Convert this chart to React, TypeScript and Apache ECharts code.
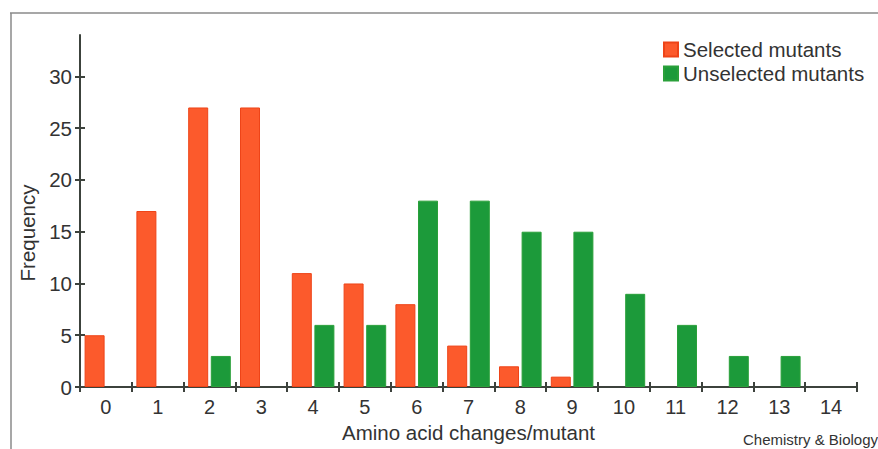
import React, { useEffect, useRef } from "react";
import * as echarts from "echarts";

const categories = ["0", "1", "2", "3", "4", "5", "6", "7", "8", "9", "10", "11", "12", "13", "14"];
const selected = [5, 17, 27, 27, 11, 10, 8, 4, 2, 1, 0, 0, 0, 0, 0];
const unselected = [0, 0, 3, 0, 6, 6, 18, 18, 15, 15, 9, 6, 3, 3, 0];
const yTicks = [0, 5, 10, 15, 20, 25, 30];

const FONT = "'Liberation Sans', Arial, Helvetica, sans-serif";
const AXIS = "#3c423c";
const TEXT = "#333333";

const bars = (arr: number[]) => arr.map((v) => (v === 0 ? "-" : v));

export default function App() {
  const ref = useRef<HTMLDivElement>(null);
  useEffect(() => {
    if (!ref.current) return;
    const chart = echarts.init(ref.current, null, { renderer: "svg" });
    const grid = { left: 80, right: 21, top: 35, bottom: 62, containLabel: false };
    chart.setOption({
      animation: false,
      backgroundColor: "#ffffff",
      textStyle: { fontFamily: FONT },
      grid,
      legend: {
        orient: "vertical",
        left: 658,
        top: 34,
        itemWidth: 14,
        itemHeight: 14,
        itemGap: 3,
        icon: "rect",
        textStyle: { fontSize: 20.5, lineHeight: 20, color: TEXT, fontFamily: FONT, padding: [0, 0, 0, 0] },
        data: ["Selected mutants", "Unselected mutants"],
      },
      xAxis: [
        {
          type: "category",
          data: categories,
          boundaryGap: true,
          name: "Amino acid changes/mutant",
          nameLocation: "middle",
          nameGap: 35,
          nameTextStyle: { fontSize: 20.5, color: TEXT, fontFamily: FONT },
          axisLine: { show: true, lineStyle: { color: AXIS, width: 2 } },
          axisTick: { show: true, alignWithLabel: false, length: 5, lineStyle: { color: AXIS, width: 2 } },
          axisLabel: { fontSize: 20, color: TEXT, margin: 10, fontFamily: FONT },
          splitLine: { show: false },
        },
        {
          type: "category",
          data: categories,
          boundaryGap: true,
          position: "bottom",
          axisLine: { show: false },
          axisTick: { show: true, inside: true, alignWithLabel: false, length: 5, lineStyle: { color: AXIS, width: 2 } },
          axisLabel: { show: false },
          splitLine: { show: false },
        },
      ],
      yAxis: [
        {
          type: "value",
          min: 0,
          max: 34,
          interval: 5,
          axisLine: { show: true, lineStyle: { color: AXIS, width: 2 } },
          axisTick: { show: true, length: 5, customValues: yTicks, lineStyle: { color: AXIS, width: 2 } },
          axisLabel: { fontSize: 20.5, color: TEXT, margin: 8, customValues: yTicks, fontFamily: FONT },
          splitLine: { show: false },
        },
        {
          type: "value",
          min: 0,
          max: 34,
          interval: 5,
          position: "left",
          axisLine: { show: false },
          axisTick: { show: true, inside: true, length: 5, customValues: yTicks, lineStyle: { color: AXIS, width: 2 } },
          axisLabel: { show: false },
          splitLine: { show: false },
        },
      ],
      series: [
        {
          name: "Selected mutants",
          type: "bar",
          data: bars(selected),
          barWidth: 20,
          barGap: "13%",
          itemStyle: { color: "#fc5a2c", borderColor: "#ee4418", borderWidth: 1 },
        },
        {
          name: "Unselected mutants",
          type: "bar",
          data: bars(unselected),
          barWidth: 20,
          barGap: "13%",
          itemStyle: { color: "#1c9a3a", borderColor: "#2aa03a", borderWidth: 1 },
        },
      ],
      graphic: [
        {
          type: "line",
          shape: { x1: 10, y1: 13, x2: 878, y2: 13 },
          style: { stroke: "#8a8a8a", lineWidth: 1.5 },
          silent: true,
        },
        {
          type: "line",
          shape: { x1: 11, y1: 13, x2: 11, y2: 449 },
          style: { stroke: "#8a8a8a", lineWidth: 1.5 },
          silent: true,
        },
        {
          type: "text",
          x: 27,
          y: 233,
          rotation: Math.PI / 2,
          style: {
            text: "Frequency",
            fontSize: 20.5,
            fill: TEXT,
            fontFamily: FONT,
            align: "center",
            verticalAlign: "middle",
          },
          silent: true,
        },
        {
          type: "text",
          x: 743,
          y: 439,
          style: {
            text: "Chemistry & Biology",
            fontSize: 15,
            fill: "#333333",
            fontFamily: FONT,
            align: "left",
            verticalAlign: "middle",
          },
          silent: true,
        },
      ],
    });
    return () => chart.dispose();
  }, []);
  return (
    <div
      ref={ref}
      style={{ position: "fixed", left: 0, top: 0, width: 878, height: 449, background: "#fff" }}
    />
  );
}
